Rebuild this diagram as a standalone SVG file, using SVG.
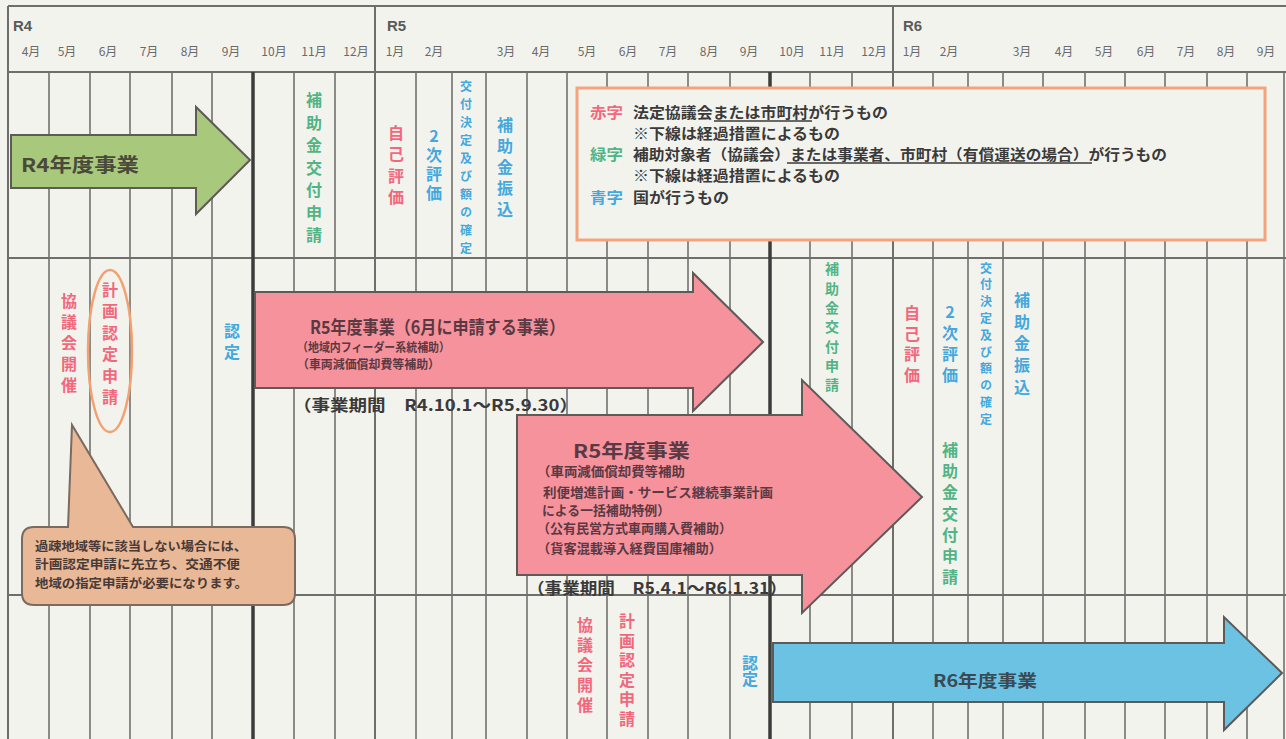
<svg xmlns="http://www.w3.org/2000/svg" width="1286" height="739" viewBox="0 0 1286 739">
<style>
text{font-family:"Noto Sans CJK JP","Noto Sans",sans-serif;}
.yr{font-size:15px;font-weight:bold;fill:#5a5a5a;font-family:"Liberation Sans","Noto Sans CJK JP",sans-serif;}
.mo{font-size:12px;fill:#6a6a6a;text-anchor:middle;}
.g{stroke:#70706c;stroke-width:1.6;}
.gt{stroke:#3c3c3a;stroke-width:3.5;}
.gy{stroke:#6e6e6a;stroke-width:2;}
.v{writing-mode:vertical-rl;text-orientation:upright;font-weight:bold;font-size:16px;}
.arr{stroke:#5e5a58;stroke-width:2;}
.at{fill:#5b3943;font-weight:bold;}
.pd{fill:#3a3a3a;font-weight:bold;font-size:16px;}
.lg{font-size:14.5px;fill:#3a3a3a;font-weight:bold;}
.ul{stroke:#3a3a3a;stroke-width:1.3;}
.co{font-size:12.5px;fill:#4a3a35;font-weight:bold;}
.red{fill:#f1687c;}
.blu{fill:#45a8dc;}
.grn{fill:#52b485;}
</style>
<rect x="0" y="0" width="1286" height="739" fill="#f3f3ee"/>
<g id="grid">
  <line class="gy" x1="8" y1="6" x2="1286" y2="6"/>
  <line class="gy" x1="8" y1="72" x2="1286" y2="72"/>
  <line class="gy" x1="8" y1="258" x2="1286" y2="258"/>
  <line class="gy" x1="8" y1="595" x2="1286" y2="595"/>
  <line class="gy" x1="8" y1="6" x2="8" y2="739"/>
  <line class="gy" x1="375" y1="6" x2="375" y2="739"/>
  <line class="gy" x1="893" y1="6" x2="893" y2="739"/>
  <g class="g">
    <line x1="49" y1="72" x2="49" y2="739"/>
    <line x1="90" y1="72" x2="90" y2="739"/>
    <line x1="130" y1="72" x2="130" y2="739"/>
    <line x1="172" y1="72" x2="172" y2="739"/>
    <line x1="212" y1="72" x2="212" y2="739"/>
    <line x1="294" y1="72" x2="294" y2="739"/>
    <line x1="335" y1="72" x2="335" y2="739"/>
    <line x1="416" y1="72" x2="416" y2="739"/>
    <line x1="452" y1="72" x2="452" y2="739"/>
    <line x1="486" y1="72" x2="486" y2="739"/>
    <line x1="527" y1="72" x2="527" y2="739"/>
    <line x1="567" y1="72" x2="567" y2="739"/>
    <line x1="607" y1="72" x2="607" y2="739"/>
    <line x1="648" y1="72" x2="648" y2="739"/>
    <line x1="688" y1="72" x2="688" y2="739"/>
    <line x1="730" y1="72" x2="730" y2="739"/>
    <line x1="810" y1="72" x2="810" y2="739"/>
    <line x1="852" y1="72" x2="852" y2="739"/>
    <line x1="933" y1="72" x2="933" y2="739"/>
    <line x1="968" y1="72" x2="968" y2="739"/>
    <line x1="1003" y1="72" x2="1003" y2="739"/>
    <line x1="1043" y1="72" x2="1043" y2="739"/>
    <line x1="1085" y1="72" x2="1085" y2="739"/>
    <line x1="1125" y1="72" x2="1125" y2="739"/>
    <line x1="1165" y1="72" x2="1165" y2="739"/>
    <line x1="1207" y1="72" x2="1207" y2="739"/>
    <line x1="1247" y1="72" x2="1247" y2="739"/>
    <line x1="1284" y1="72" x2="1284" y2="739"/>
  </g>
  <line class="gt" x1="253" y1="72" x2="253" y2="739"/>
  <line class="gt" x1="770" y1="72" x2="770" y2="739"/>
</g>
<g id="header">
  <text class="yr" x="13" y="31">R4</text>
  <text class="yr" x="387" y="31">R5</text>
  <text class="yr" x="903" y="31">R6</text>
  <text class="mo" x="31" y="56">4月</text>
  <text class="mo" x="67" y="56">5月</text>
  <text class="mo" x="108" y="56">6月</text>
  <text class="mo" x="149" y="56">7月</text>
  <text class="mo" x="190" y="56">8月</text>
  <text class="mo" x="231" y="56">9月</text>
  <text class="mo" x="274" y="56">10月</text>
  <text class="mo" x="314" y="56">11月</text>
  <text class="mo" x="356" y="56">12月</text>
  <text class="mo" x="395" y="56">1月</text>
  <text class="mo" x="434" y="56">2月</text>
  <text class="mo" x="506" y="56">3月</text>
  <text class="mo" x="541" y="56">4月</text>
  <text class="mo" x="587" y="56">5月</text>
  <text class="mo" x="628" y="56">6月</text>
  <text class="mo" x="668" y="56">7月</text>
  <text class="mo" x="709" y="56">8月</text>
  <text class="mo" x="749" y="56">9月</text>
  <text class="mo" x="792" y="56">10月</text>
  <text class="mo" x="832" y="56">11月</text>
  <text class="mo" x="874" y="56">12月</text>
  <text class="mo" x="912" y="56">1月</text>
  <text class="mo" x="949" y="56">2月</text>
  <text class="mo" x="1022" y="56">3月</text>
  <text class="mo" x="1064" y="56">4月</text>
  <text class="mo" x="1104" y="56">5月</text>
  <text class="mo" x="1146" y="56">6月</text>
  <text class="mo" x="1186" y="56">7月</text>
  <text class="mo" x="1226" y="56">8月</text>
  <text class="mo" x="1266" y="56">9月</text>
</g>
<g id="arrow-r4">
  <path class="arr" d="M11 135 L196 135 L196 107 L250 160 L196 214 L196 188 L11 188 Z" fill="#a8c97c"/>
  <text x="21" y="172" font-size="19" font-weight="bold" fill="#4a4a3a" textLength="118" lengthAdjust="spacingAndGlyphs">R4年度事業</text>
</g>
<g id="arrow-r5a">
  <path class="arr" d="M255 292 L693 292 L693 273 L763 342 L693 411 L693 388 L255 388 Z" fill="#f6929c"/>
  <text class="at" x="310" y="334" font-size="18" textLength="255" lengthAdjust="spacingAndGlyphs">R5年度事業（6月に申請する事業）</text>
  <text class="at" x="297" y="352" font-size="12" textLength="153" lengthAdjust="spacingAndGlyphs">（地域内フィーダー系統補助）</text>
  <text class="at" x="297" y="369" font-size="12" textLength="143" lengthAdjust="spacingAndGlyphs">（車両減価償却費等補助）</text>
  <text class="pd" x="293" y="411" textLength="285" lengthAdjust="spacingAndGlyphs">（事業期間　R4.10.1～R5.9.30）</text>
</g>
<g id="arrow-r5b">
  <path class="arr" d="M517 415 L802 415 L802 380 L922 497 L802 613 L802 575 L517 575 Z" fill="#f6929c"/>
  <text class="at" x="573" y="458" font-size="19" textLength="117" lengthAdjust="spacingAndGlyphs">R5年度事業</text>
  <text class="at" x="537" y="476" font-size="13" textLength="148" lengthAdjust="spacingAndGlyphs">（車両減価償却費等補助</text>
  <text class="at" x="543" y="497" font-size="13" textLength="230" lengthAdjust="spacingAndGlyphs">利便増進計画・サービス継続事業計画</text>
  <text class="at" x="542" y="515" font-size="13" textLength="128" lengthAdjust="spacingAndGlyphs">による一括補助特例）</text>
  <text class="at" x="537" y="533" font-size="13" textLength="195" lengthAdjust="spacingAndGlyphs">（公有民営方式車両購入費補助）</text>
  <text class="at" x="537" y="553" font-size="13" textLength="185" lengthAdjust="spacingAndGlyphs">（貨客混載導入経費国庫補助）</text>
  <text class="pd" x="527" y="594" textLength="260" lengthAdjust="spacingAndGlyphs">（事業期間　R5.4.1～R6.1.31）</text>
</g>
<g id="arrow-r6">
  <path class="arr" d="M773 643 L1224 643 L1224 617 L1282 673 L1224 730 L1224 702 L773 702 Z" fill="#6cc2e2"/>
  <text x="933" y="687" font-size="17" font-weight="bold" fill="#3a4a55" textLength="104" lengthAdjust="spacingAndGlyphs">R6年度事業</text>
</g>
<g id="legend">
  <rect x="577" y="88" width="688" height="152" fill="#f3f3ee" stroke="#f4a47c" stroke-width="3"/>
  <text class="lg red" x="590" y="118" textLength="33" lengthAdjust="spacingAndGlyphs">赤字</text>
  <text class="lg" x="633" y="118" textLength="255" lengthAdjust="spacingAndGlyphs">法定協議会または市町村が行うもの</text>
  <line class="ul" x1="714" y1="121" x2="812" y2="121"/>
  <text class="lg" x="633" y="139" textLength="207" lengthAdjust="spacingAndGlyphs">※下線は経過措置によるもの</text>
  <text class="lg grn" x="590" y="160" textLength="33" lengthAdjust="spacingAndGlyphs">緑字</text>
  <text class="lg" x="633" y="160" textLength="534" lengthAdjust="spacingAndGlyphs">補助対象者（協議会）または事業者、市町村（有償運送の場合）が行うもの</text>
  <line class="ul" x1="787" y1="163" x2="1092" y2="163"/>
  <text class="lg" x="633" y="181" textLength="207" lengthAdjust="spacingAndGlyphs">※下線は経過措置によるもの</text>
  <text class="lg blu" x="590" y="203" textLength="33" lengthAdjust="spacingAndGlyphs">青字</text>
  <text class="lg" x="633" y="203" textLength="96" lengthAdjust="spacingAndGlyphs">国が行うもの</text>
</g>
<g id="row1-labels">
  <text class="v grn" x="314" y="92" font-size="15" letter-spacing="6.5">補助金交付申請</text>
  <text class="v red" x="396" y="125" letter-spacing="5.3">自己評価</text>
  <text class="v blu" x="434" y="128" letter-spacing="3">2次評価</text>
  <text class="v blu" x="466" y="80" style="font-size:12px" letter-spacing="6">交付決定及び額の確定</text>
  <text class="v blu" x="505" y="117" letter-spacing="5">補助金振込</text>
</g>
<g id="row2-labels">
  <text class="v red" x="69" y="293" letter-spacing="5">協議会開催</text>
  <ellipse cx="110" cy="351" rx="22" ry="81" fill="none" stroke="#f2a272" stroke-width="2.5"/>
  <text class="v red" x="110" y="282" letter-spacing="5.4">計画認定申請</text>
  <text class="v blu" x="232" y="323" letter-spacing="5">認定</text>
  <text class="v grn" x="832" y="262" style="font-size:14px" letter-spacing="5.3">補助金交付申請</text>
  <text class="v red" x="912" y="305" letter-spacing="4.7">自己評価</text>
  <text class="v blu" x="950" y="304" letter-spacing="5">2次評価</text>
  <text class="v grn" x="950" y="442" letter-spacing="5.2">補助金交付申請</text>
  <text class="v blu" x="986" y="262" style="font-size:12px" letter-spacing="4.8">交付決定及び額の確定</text>
  <text class="v blu" x="1022" y="292" letter-spacing="5.7">補助金振込</text>
</g>
<g id="row3-labels">
  <text class="v red" x="585" y="617" letter-spacing="4">協議会開催</text>
  <text class="v red" x="627" y="613" letter-spacing="3.6">計画認定申請</text>
  <text class="v blu" x="750" y="655" letter-spacing="0">認定</text>
</g>
<g id="callout">
  <path d="M34 527 L68 527 L72 425 L133 527 L283 527 Q295 527 295 539 L295 593 Q295 605 283 605 L34 605 Q22 605 22 593 L22 539 Q22 527 34 527 Z" fill="#e9b896" stroke="#7a6a60" stroke-width="2"/>
  <text class="co" x="35" y="551" textLength="212" lengthAdjust="spacingAndGlyphs">過疎地域等に該当しない場合には、</text>
  <text class="co" x="35" y="569" textLength="205" lengthAdjust="spacingAndGlyphs">計画認定申請に先立ち、交通不便</text>
  <text class="co" x="35" y="588" textLength="213" lengthAdjust="spacingAndGlyphs">地域の指定申請が必要になります。</text>
</g>
</svg>
